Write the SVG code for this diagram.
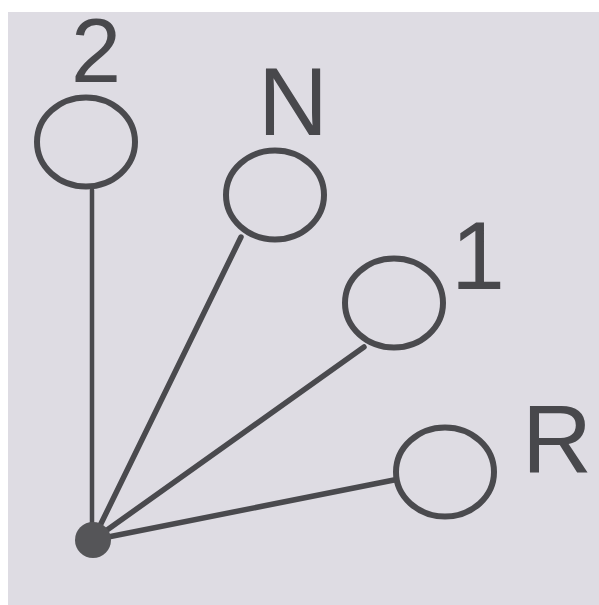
<svg xmlns="http://www.w3.org/2000/svg" width="599" height="605" viewBox="0 0 599 605">
  <style>
    .pos { fill: none; stroke: #4a4a4e; stroke-width: 6; }
    .lbl { font-family: "Liberation Sans", Arial, sans-serif; font-size: 97px; fill: #48484c; }
    .arm { stroke: #4a4a4e; stroke-width: 5.5; stroke-linecap: round; fill: none; }
  </style>
  <rect x="0" y="0" width="599" height="605" fill="#ffffff"/>
  <rect x="8" y="12" width="591" height="593" fill="#dedce3"/>
  <g id="connectors">
    <line class="arm" x1="92" y1="540" x2="92" y2="190" style="stroke-width:4.5"/>
    <line class="arm" x1="93" y1="540" x2="241" y2="237"/>
    <line class="arm" x1="93" y1="540" x2="364" y2="347"/>
    <line class="arm" x1="93" y1="540" x2="394" y2="480"/>
  </g>
  <g id="pivot">
    <circle cx="93" cy="540" r="18" fill="#555558"/>
  </g>
  <g id="pos-2">
    <ellipse class="pos" cx="86" cy="142" rx="49" ry="44.5"/>
    <text class="lbl" x="96" y="82" text-anchor="middle" style="font-size:90px">2</text>
  </g>
  <g id="pos-N">
    <ellipse class="pos" cx="275" cy="195" rx="49" ry="44.5"/>
    <text class="lbl" x="293" y="135" text-anchor="middle">N</text>
  </g>
  <g id="pos-1">
    <ellipse class="pos" cx="394" cy="303" rx="49" ry="44.5"/>
    <text class="lbl" x="451" y="289">1</text>
  </g>
  <g id="pos-R">
    <ellipse class="pos" cx="445" cy="472" rx="49" ry="44.5"/>
    <text class="lbl" x="522" y="473">R</text>
  </g>
</svg>
